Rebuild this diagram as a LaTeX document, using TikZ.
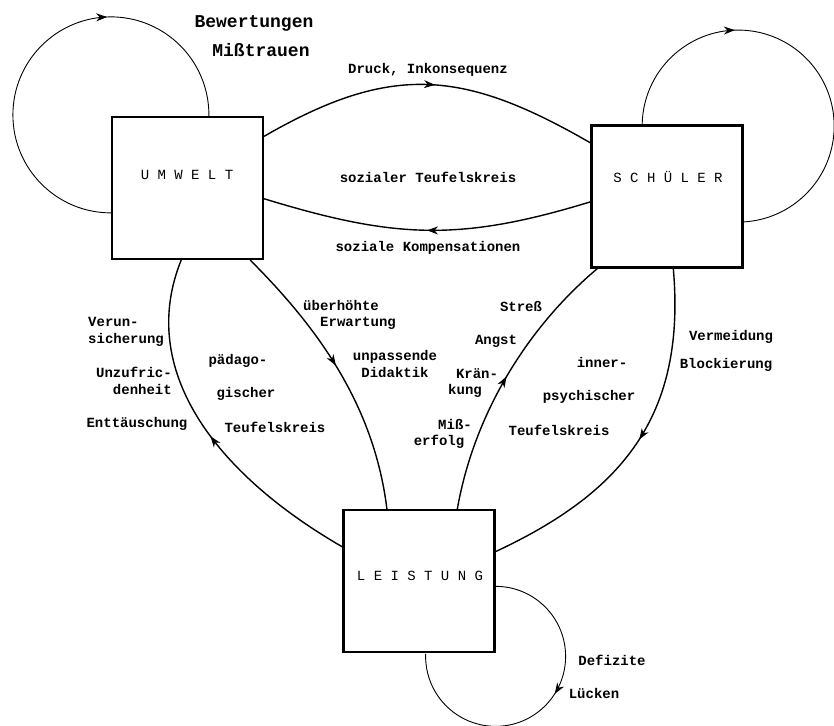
\documentclass[tikz,border=0pt]{standalone}
\usepackage{fontspec}
\setmonofont{Liberation Mono}
\usetikzlibrary{arrows.meta,decorations.markings}

\begin{document}
\begin{tikzpicture}[x=1pt,y=1pt,
        block/.style={draw, line width=2.2pt, minimum width=151pt, minimum height=142pt, inner sep=0pt},
        blocktext/.style={font=\fontsize{14}{17}\selectfont\ttfamily, inner sep=0pt},
        lbl/.style={font=\fontsize{14}{17}\selectfont\ttfamily\bfseries, inner sep=0pt},
        biglbl/.style={font=\fontsize{18}{22}\selectfont\ttfamily\bfseries, inner sep=0pt},
        flow/.style={line width=1.4pt},
        loopline/.style={line width=0.9pt},
        midarrow/.style={postaction={decorate},
            decoration={markings, mark=at position #1 with {\arrow[line width=1pt]{Stealth[length=11pt,width=8pt]}}}}
    ]
        \useasboundingbox (0,0) rectangle (834,725);

        % the three boxes
        \node[block] (umwelt) at (187.5,537) {};
        \node[block] (schueler) at (667,528.5) {};
        \node[block] (leistung) at (419,144) {};
        \node[blocktext] (umweltText) at (187,550) {U M W E L T};
        \node[blocktext] (schuelerText) at (668,548) {S C H Ü L E R};
        \node[blocktext] (leistungText) at (420,149) {L E I S T U N G};

        % self loops
        \draw[loopline, midarrow=0.655] (umwelt.198) arc[start angle=270, end angle=-1.5, radius=98];
        \draw[loopline, midarrow=0.326] (schueler.109) arc[start angle=179, end angle=-88, radius=96];
        \draw[loopline, midarrow=0.45] (leistung.-4) arc[start angle=90, end angle=-182, radius=70];

        % sozialer Teufelskreis
        \draw[flow, midarrow=0.52] (umwelt.34) to[out=30, in=150, looseness=1.15] (schueler.145);
        \draw[flow, midarrow=0.5] (schueler.184) to[out=197, in=-17, looseness=1.07] (umwelt.-8);

        % paedagogischer Teufelskreis
        \draw[flow, midarrow=0.48] (leistung.156) to[out=150, in=248, out looseness=1.15, in looseness=0.92] (umwelt.265);
        \draw[flow, midarrow=0.47] (umwelt.311) to[out=-45, in=97, out looseness=0.8, in looseness=0.98] (leistung.114);

        % innerpsychischer Teufelskreis
        \draw[flow, midarrow=0.5] (leistung.62) to[out=80, in=220, out looseness=0.91, in looseness=0.82] (schueler.226);
        \draw[flow, midarrow=0.49] (schueler.275) to[out=-85, in=25, out looseness=1.14, in looseness=1.06] (leistung.21);

        % labels
        \node[biglbl] (bewertungen) at (254,702) {Bewertungen};
        \node[biglbl] (misstrauen) at (261,675) {Mißtrauen};
        \node[lbl] (druck) at (428,655) {Druck, Inkonsequenz};
        \node[lbl] (sozialTk) at (428,548) {sozialer Teufelskreis};
        \node[lbl] (kompens) at (428,477) {soziale Kompensationen};

        \node[lbl, anchor=west] (ueberhoeht) at (303,419) {überhöhte};
        \node[lbl, anchor=west] (erwartung) at (320,402) {Erwartung};
        \node[lbl, align=center] (didaktik) at (395,361) {unpassende\\Didaktik};

        \node[lbl, anchor=west, align=left] (verun) at (88,393) {Verun-\\sicherung};
        \node[lbl, anchor=east, align=right] (unzufr) at (172,344) {Unzufric-\\denheit};
        \node[lbl] (enttaeusch) at (137,301) {Enttäuschung};
        \node[lbl] (paedago) at (238,364) {pädago-};
        \node[lbl] (gischer) at (246,331) {gischer};
        \node[lbl] (paedTk) at (275,298) {Teufelskreis};

        \node[lbl] (stress) at (521,418) {Streß};
        \node[lbl] (angst) at (496,384) {Angst};
        \node[lbl] (kraen) at (477,351) {Krän-};
        \node[lbl] (kung) at (465,334) {kung};
        \node[lbl] (miss) at (455,301) {Miß-};
        \node[lbl] (erfolg) at (439,283) {erfolg};
        \node[lbl] (inner) at (602,362) {inner-};
        \node[lbl] (psych) at (589,328) {psychischer};
        \node[lbl] (innerTk) at (559,295) {Teufelskreis};
        \node[lbl] (vermeid) at (731,388) {Vermeidung};
        \node[lbl] (blockier) at (726,360) {Blockierung};

        \node[lbl] (defizite) at (612,65) {Defizite};
        \node[lbl] (luecken) at (594,32) {Lücken};
    \end{tikzpicture}
\end{document}
